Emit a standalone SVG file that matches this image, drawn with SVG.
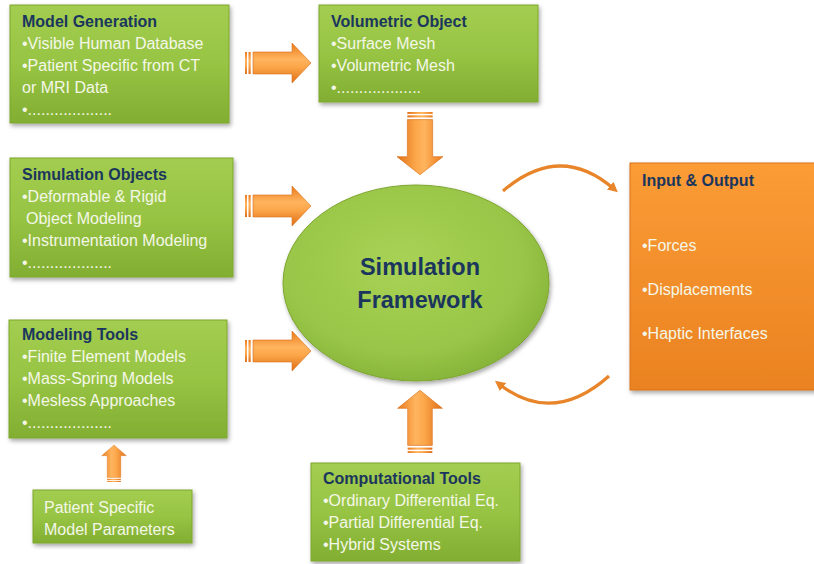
<svg xmlns="http://www.w3.org/2000/svg" width="814" height="564" viewBox="0 0 814 564">
<defs>
<style>
.box{fill:url(#gGreen);stroke:#7fa62f;stroke-width:1;filter:url(#sh)}
.obox{fill:url(#gOrange);stroke:#d9731c;stroke-width:1;filter:url(#sh)}
.t{font-family:"Liberation Sans",Arial,sans-serif;font-size:16px;font-weight:bold;fill:#1b365d}
.b{font-family:"Liberation Sans",Arial,sans-serif;font-size:16px;fill:#f4f7e8}
.big{font-family:"Liberation Sans",Arial,sans-serif;font-size:23.5px;font-weight:bold;fill:#1b365d;text-anchor:middle}
.arc{fill:none;stroke:#e8852a;stroke-width:3.2;marker-end:url(#ah)}
</style>
<linearGradient id="gGreen" x1="0" y1="0" x2="0" y2="1">
<stop offset="0" stop-color="#a3cd50"/>
<stop offset="0.5" stop-color="#97c443"/>
<stop offset="1" stop-color="#82ae32"/>
</linearGradient>
<linearGradient id="gOrange" x1="0" y1="0" x2="0" y2="1">
<stop offset="0" stop-color="#fb9c36"/>
<stop offset="1" stop-color="#ea8221"/>
</linearGradient>
<radialGradient id="gEll" cx="0.45" cy="0.4" r="0.65">
<stop offset="0" stop-color="#a8d255"/>
<stop offset="0.7" stop-color="#99c647"/>
<stop offset="1" stop-color="#82b036"/>
</radialGradient>
<linearGradient id="gArr" x1="0" y1="0" x2="0" y2="1">
<stop offset="0" stop-color="#ea7a1c"/>
<stop offset="0.4" stop-color="#ffb45e"/>
<stop offset="0.6" stop-color="#fca64a"/>
<stop offset="1" stop-color="#de6f16"/>
</linearGradient>
<filter id="sh" x="-10%" y="-10%" width="125%" height="130%">
<feDropShadow dx="1.5" dy="2.5" stdDeviation="2" flood-color="#000" flood-opacity="0.35"/>
</filter>
<marker id="ah" viewBox="0 0 10 10" refX="5" refY="5" markerWidth="3.2" markerHeight="3.2" orient="auto">
<path d="M0,0 L10,5 L0,10 Z" fill="#e8852a"/>
</marker>
<g id="arr">
<rect x="0" y="-11" width="2" height="22" fill="url(#gArr)"/>
<rect x="3.5" y="-11" width="2.2" height="22" fill="url(#gArr)"/>
<path d="M8,-11 H47 V-20 L66,0 L47,20 V11 H8 Z" fill="url(#gArr)" stroke="#d8701a" stroke-width="0.6"/>
</g>
</defs>
<rect width="814" height="564" fill="#ffffff"/>

<g id="connectors">
<use href="#arr" transform="translate(245,63)"/>
<use href="#arr" transform="translate(245,206)"/>
<use href="#arr" transform="translate(245,351)"/>
<use href="#arr" transform="translate(420,112) rotate(90) scale(0.95,1.15)"/>
<use href="#arr" transform="translate(420,453) rotate(-90) scale(0.95,1.12)"/>
<use href="#arr" transform="translate(114,482) rotate(-90) scale(0.56,0.62)"/>
<path class="arc" d="M503,191 Q560,142 614,189"/>
<path class="arc" d="M609,376 Q553,426 499,384"/>
</g>

<g id="model-generation">
<rect class="box" x="10" y="5" width="219" height="118"/>
<text class="t" x="22" y="27">Model Generation</text>
<text class="b" x="22" y="49">•Visible Human Database</text>
<text class="b" x="22" y="71">•Patient Specific from CT</text>
<text class="b" x="22" y="93">or MRI Data</text>
<text class="b" x="22" y="115">•...................</text>
</g>

<g id="volumetric-object">
<rect class="box" x="319" y="5" width="219" height="97"/>
<text class="t" x="331" y="27">Volumetric Object</text>
<text class="b" x="331" y="49">•Surface Mesh</text>
<text class="b" x="331" y="71">•Volumetric Mesh</text>
<text class="b" x="331" y="93">•...................</text>
</g>

<g id="simulation-objects">
<rect class="box" x="10" y="158" width="223" height="119"/>
<text class="t" x="22" y="180">Simulation Objects</text>
<text class="b" x="22" y="202">•Deformable &amp; Rigid</text>
<text class="b" x="26" y="224">Object Modeling</text>
<text class="b" x="22" y="246">•Instrumentation Modeling</text>
<text class="b" x="22" y="268">•...................</text>
</g>

<g id="modeling-tools">
<rect class="box" x="9" y="320" width="218" height="118"/>
<text class="t" x="22" y="340">Modeling Tools</text>
<text class="b" x="22" y="362">•Finite Element Models</text>
<text class="b" x="22" y="384">•Mass-Spring Models</text>
<text class="b" x="22" y="406">•Mesless Approaches</text>
<text class="b" x="22" y="428">•...................</text>
</g>

<g id="patient-specific">
<rect class="box" x="33" y="490" width="159" height="53"/>
<text class="b" x="44" y="513">Patient Specific</text>
<text class="b" x="44" y="535">Model Parameters</text>
</g>

<g id="computational-tools">
<rect class="box" x="311" y="463" width="209" height="98"/>
<text class="t" x="323" y="484">Computational Tools</text>
<text class="b" x="323" y="506">•Ordinary Differential Eq.</text>
<text class="b" x="323" y="528">•Partial Differential Eq.</text>
<text class="b" x="323" y="550">•Hybrid Systems</text>
</g>

<g id="simulation-framework">
<ellipse cx="416" cy="283" rx="133" ry="98" fill="url(#gEll)" stroke="#7da52f" stroke-width="1" filter="url(#sh)"/>
<text class="big" x="420" y="275">Simulation</text>
<text class="big" x="420" y="308">Framework</text>
</g>

<g id="input-output">
<rect class="obox" x="630" y="163" width="200" height="227"/>
<text class="t" x="642" y="186">Input &amp; Output</text>
<text class="b" x="642" y="251">•Forces</text>
<text class="b" x="642" y="295">•Displacements</text>
<text class="b" x="642" y="339">•Haptic Interfaces</text>
</g>
</svg>
